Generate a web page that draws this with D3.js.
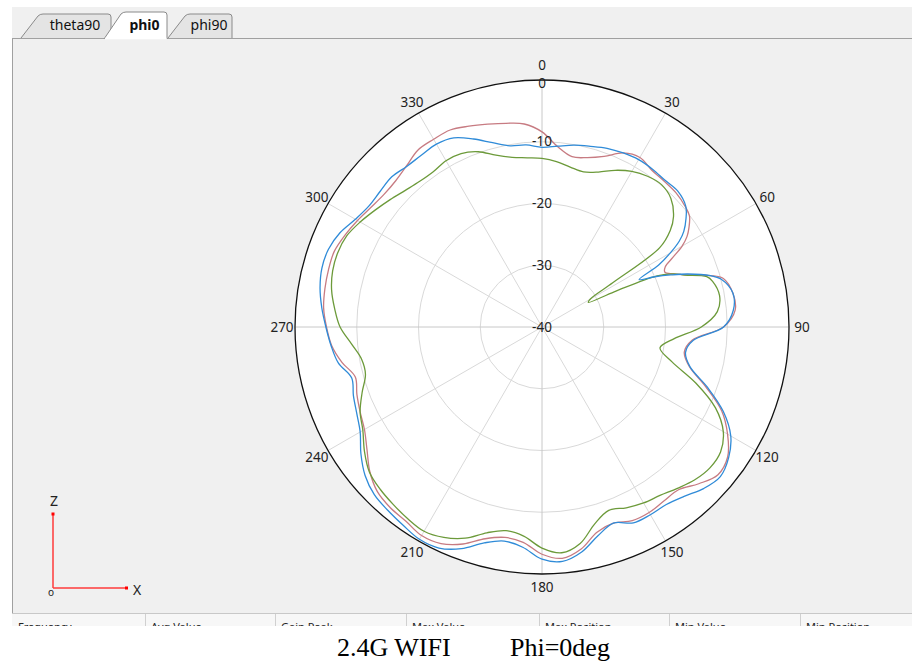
<!DOCTYPE html>
<html lang='en'>
  <head>
    <meta charset='utf-8'>
    <style>
      body { margin: 0; background: #fff; }
      svg { display: block; font-family: 'Noto Sans', 'Open Sans', sans-serif; }
    </style>
  </head>
  <body>
    <div id='chart'></div>

    <script src='https://cdn.jsdelivr.net/npm/d3@7/dist/d3.min.js'></script>
    <script>
      // angle grid (deg, clockwise from top) shared by the three traces
      var angles = [0, 5, 10, 15, 20, 25, 30, 35, 40, 45, 50, 53, 56, 58, 60, 62, 64, 66, 68, 70, 73, 75,
        80, 85, 90, 95, 100, 105, 110, 115, 120, 125, 130, 135, 140, 145, 150, 155, 160, 165, 170, 175,
        180, 185, 190, 195, 200, 205, 210, 215, 220, 225, 230, 235, 240, 245, 250, 255, 260, 265, 270,
        275, 280, 285, 290, 295, 300, 305, 310, 315, 320, 325, 330, 335, 340, 345, 350, 355];

      var redTrace = [-8.4, -10.7, -12.0, -11.6, -10.6, -8.9, -8.3, -9.0, -9.2, -9.3, -9.7, -10.1, -11.3, -12.3,
        -13.8, -16.0, -17.8, -18.2, -17.0, -15.3, -11.5, -9.6,
        -8.6, -8.6, -10.6, -15.6, -16.6, -15.3, -11.8, -7.9, -5.3, -3.3, -2.8, -4.1, -5.6, -5.6, -5.3, -5.4,
        -6.2, -5.6, -3.5, -2.4,
        -3.2, -5.0, -5.4, -4.5, -2.6, -1.3, -1.0, -1.6, -1.8, -2.3, -3.6, -5.4, -6.8, -7.5, -8.1, -8.7, -7.1,
        -5.8, -5.1,
        -4.5, -4.3, -4.2, -4.2, -4.8, -5.5, -6.2, -6.6, -6.5, -5.9, -5.0, -4.9, -4.8, -5.4, -6.0, -6.5, -7.0];

      var blueTrace = [-10.9, -10.6, -10.1, -9.7, -9.2, -8.9, -8.7, -8.8, -9.0, -8.9, -9.6, -10.8, -12.3, -13.8,
        -16.0, -18.6, -22.5, -20.0, -17.5, -14.9, -11.5, -10.0,
        -8.6, -8.9, -10.6, -15.4, -16.4, -15.2, -11.5, -7.6, -4.7, -3.1, -2.3, -3.0, -4.2, -4.9, -4.9, -5.0,
        -6.2, -5.0, -3.0, -1.9,
        -2.4, -4.2, -4.8, -3.8, -1.8, -0.5, -0.3, -0.8, -1.2, -1.6, -2.6, -4.2, -6.0, -6.9, -7.5, -8.1, -6.5,
        -5.7, -5.0,
        -4.2, -3.5, -3.1, -3.2, -3.9, -5.1, -5.8, -5.8, -5.6, -6.0, -6.0, -5.8, -6.2, -7.6, -9.1, -10.2, -10.4];

      var greenTrace = [-12.7, -13.1, -13.7, -14.0, -13.3, -12.0, -10.9, -10.2, -9.9, -10.5, -12.2, -14.0, -17.0,
        -26.5, -31.0, -31.5, -27.0, -19.6, -17.0, -15.4, -12.1, -11.4,
        -10.8, -11.5, -14.2, -18.5, -20.6, -18.2, -13.5, -9.0, -6.1, -4.7, -4.5, -5.0, -5.9, -6.7, -7.1, -7.7,
        -8.4, -7.0, -4.4, -3.3,
        -4.2, -6.0, -6.5, -5.5, -3.6, -2.4, -1.8, -2.1, -2.5, -2.9, -3.5, -4.9, -6.5, -7.5, -9.0, -10.4, -10.3,
        -9.0, -7.3,
        -6.3, -5.4, -4.9, -4.8, -5.1, -6.0, -7.0, -7.9, -8.7, -9.2, -9.3, -8.9, -9.0, -9.8, -11.2, -12.1, -12.5];

      var angleTicks = [0, 30, 60, 90, 120, 150, 180, 210, 240, 270, 300, 330];
      var radialTicks = [0, -10, -20, -30, -40];
      var tabLabels = ['theta90', 'phi0', 'phi90'];
      var tableHeaders = ['Frequency', 'Avg Value', 'Gain Peak', 'Max Value', 'Max Position', 'Min Value', 'Min Position'];
      var captionParts = ['2.4G WIFI', 'Phi=0deg'];

      var width = 912, height = 664;
      var cx = 542, cy = 327, R = 247;

      var svg = d3.select('#chart').append('svg')
          .attr('width', width)
          .attr('height', height);

      // window / panel background
      svg.append('rect').attr('x', 12).attr('y', 7).attr('width', width - 12).attr('height', 619)
          .attr('fill', '#f0f0f0');
      svg.append('line').attr('x1', 12.5).attr('x2', 12.5).attr('y1', 38).attr('y2', 626)
          .attr('stroke', '#a0a0a0');
      svg.append('line').attr('x1', 12).attr('x2', width).attr('y1', 38.5).attr('y2', 38.5)
          .attr('stroke', '#a0a0a0');

      // tabs
      var tabs = [
        {x0: 21, x1: 112, active: false},
        {x0: 104, x1: 168, active: true},
        {x0: 168, x1: 233, active: false}
      ];
      var order = [0, 2, 1];
      order.forEach(function (i) {
        var t = tabs[i];
        var top = t.active ? 12 : 14, bot = t.active ? 39 : 38;
        var p = d3.path();
        p.moveTo(t.x0, bot);
        p.lineTo(t.x0 + 17, top + 2);
        p.quadraticCurveTo(t.x0 + 19, top, t.x0 + 22, top);
        p.lineTo(t.x1 - 4, top);
        p.quadraticCurveTo(t.x1 - 1, top, t.x1 - 1, top + 3);
        p.lineTo(t.x1 - 1, bot);
        svg.append('path').attr('d', p.toString())
            .attr('fill', t.active ? '#ffffff' : '#e4e4e4')
            .attr('stroke', '#8a8a8a');
        if (t.active) {
          svg.append('line').attr('x1', t.x0 + 1).attr('x2', t.x1 - 1.5).attr('y1', 38.5).attr('y2', 38.5)
              .attr('stroke', '#fff').attr('stroke-width', 1.5);
        }
        svg.append('text')
            .attr('x', (t.x0 + 17 + t.x1) / 2)
            .attr('y', 30)
            .attr('text-anchor', 'middle')
            .attr('font-size', 14)
            .attr('font-weight', t.active ? 'bold' : 'normal')
            .attr('fill', '#111')
            .text(tabLabels[i]);
      });

      // polar chart
      var r = d3.scaleLinear().domain([-40, 0]).range([0, R]);
      var g = svg.append('g').attr('transform', 'translate(' + cx + ',' + cy + ')');

      g.append('circle').attr('r', R).attr('fill', '#fff');

      g.selectAll('.ring')
          .data(radialTicks.filter(function (d) { return d > -40 && d < 0; }))
        .enter().append('circle')
          .attr('r', function (d) { return r(d); })
          .attr('fill', 'none')
          .attr('stroke', '#d9d9d9');

      g.selectAll('.spoke')
          .data(angleTicks)
        .enter().append('line')
          .attr('x2', function (d) { return R * Math.sin(d * Math.PI / 180); })
          .attr('y2', function (d) { return -R * Math.cos(d * Math.PI / 180); })
          .attr('stroke', function (d) { return d % 90 === 0 ? '#c8c8c8' : '#d9d9d9'; });

      var line = d3.lineRadial()
          .angle(function (d) { return d[0] * Math.PI / 180; })
          .radius(function (d) { return r(d[1]); })
          .curve(d3.curveCatmullRomClosed.alpha(0.5));

      var traces = [
        {vals: redTrace, color: '#c77b82'},
        {vals: greenTrace, color: '#6c9a3a'},
        {vals: blueTrace, color: '#2f8bd8'}
      ];
      traces.forEach(function (s) {
        g.append('path')
            .datum(angles.map(function (a, i) { return [a, s.vals[i]]; }))
            .attr('d', line)
            .attr('fill', 'none')
            .attr('stroke', s.color)
            .attr('stroke-width', 1.3);
      });

      g.append('circle').attr('r', R).attr('fill', 'none').attr('stroke', '#111').attr('stroke-width', 1.3);

      g.selectAll('.alab')
          .data(angleTicks)
        .enter().append('text')
          .attr('x', function (d) { return (R + 13) * Math.sin(d * Math.PI / 180); })
          .attr('y', function (d) { return -(R + 13) * Math.cos(d * Math.PI / 180) - (d === 0 ? 2 : 0); })
          .attr('dy', '0.35em')
          .attr('text-anchor', 'middle')
          .attr('font-size', 13.5)
          .attr('fill', '#222')
          .text(function (d) { return d; });

      g.selectAll('.rlab')
          .data(radialTicks)
        .enter().append('text')
          .attr('x', 0)
          .attr('y', function (d) { return -r(d) + (d === 0 ? 3 : 0); })
          .attr('dy', '0.35em')
          .attr('text-anchor', 'middle')
          .attr('font-size', 13.5)
          .attr('fill', '#222')
          .text(function (d) { return d; });

      // axis indicator
      var ax = svg.append('g');
      ax.append('line').attr('x1', 53).attr('x2', 53).attr('y1', 514).attr('y2', 588)
          .attr('stroke', '#ff3b3b').attr('stroke-width', 1.5);
      ax.append('line').attr('x1', 53).attr('x2', 127).attr('y1', 588).attr('y2', 588)
          .attr('stroke', '#ff3b3b').attr('stroke-width', 1.5);
      ax.append('rect').attr('x', 51.5).attr('y', 512.5).attr('width', 3).attr('height', 3).attr('fill', '#f00');
      ax.append('rect').attr('x', 125).attr('y', 586.5).attr('width', 3).attr('height', 3).attr('fill', '#f00');
      ax.append('text').attr('x', 54).attr('y', 506).attr('text-anchor', 'middle')
          .attr('font-size', 14).attr('fill', '#222').text('Z');
      ax.append('text').attr('x', 137).attr('y', 595).attr('text-anchor', 'middle')
          .attr('font-size', 14).attr('fill', '#222').text('X');
      ax.append('text').attr('x', 51).attr('y', 596).attr('text-anchor', 'middle')
          .attr('font-size', 10).attr('fill', '#222').text('o');

      // table header row, mostly cut off
      var colX = [12, 145, 275, 406, 539, 669, 800];
      svg.append('defs').append('clipPath').attr('id', 'hdrclip')
        .append('rect').attr('x', 12).attr('y', 613).attr('width', width - 12).attr('height', 13);
      var hdr = svg.append('g').attr('clip-path', 'url(#hdrclip)');
      hdr.append('rect').attr('x', 12).attr('y', 613).attr('width', width - 12).attr('height', 13).attr('fill', '#f7f7f7');
      hdr.append('line').attr('x1', 12).attr('x2', width).attr('y1', 613.5).attr('y2', 613.5).attr('stroke', '#c8c8c8');
      hdr.selectAll('.sep').data(colX.slice(1)).enter().append('line')
          .attr('x1', function (d) { return d + 0.5; }).attr('x2', function (d) { return d + 0.5; })
          .attr('y1', 614).attr('y2', 626).attr('stroke', '#d0d0d0');
      hdr.selectAll('.htxt').data(tableHeaders).enter().append('text')
          .attr('x', function (d, i) { return colX[i] + 6; })
          .attr('y', 630.5)
          .attr('font-size', 11)
          .attr('fill', '#222')
          .text(function (d) { return d; });

      // caption
      svg.append('text').attr('x', 337).attr('y', 656)
          .attr('font-family', "'Liberation Serif', 'Times New Roman', serif")
          .attr('font-size', 26).attr('fill', '#000').text(captionParts[0]);
      svg.append('text').attr('x', 510).attr('y', 656)
          .attr('font-family', "'Liberation Serif', 'Times New Roman', serif")
          .attr('font-size', 26).attr('fill', '#000').text(captionParts[1]);
    </script>
  </body>
</html>
